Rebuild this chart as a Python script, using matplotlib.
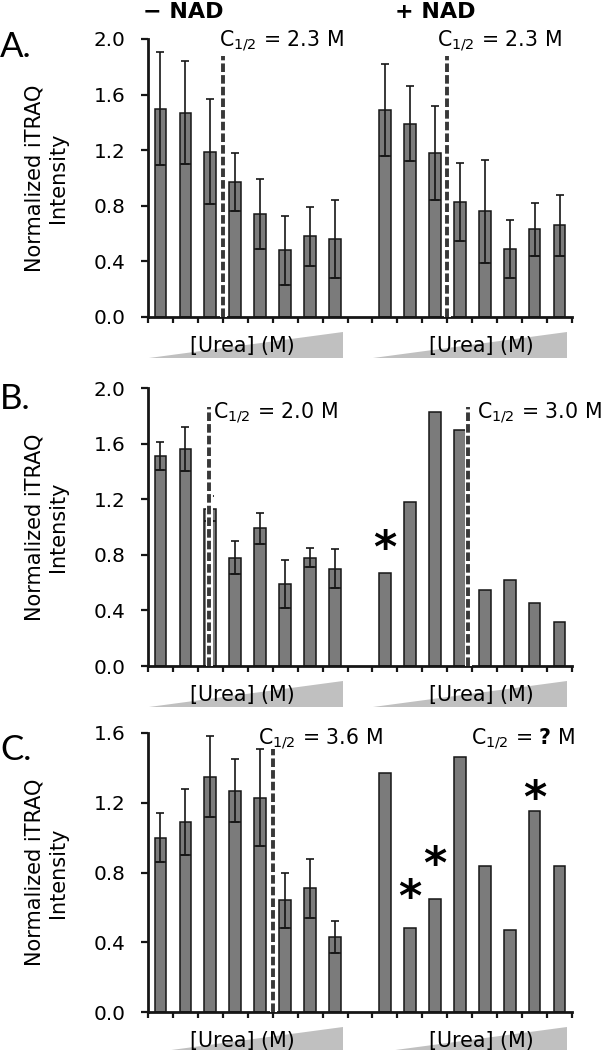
import matplotlib
matplotlib.use('Agg')
import matplotlib.pyplot as plt
import matplotlib.transforms as mtransforms
from matplotlib.patches import Polygon


# bar heights and error bars
# left group = - NAD, right group = + NAD
a_minus = [1.50, 1.47, 1.19, 0.97, 0.74, 0.48, 0.58, 0.56]
a_minus_sd = [0.41, 0.37, 0.38, 0.21, 0.25, 0.25, 0.21, 0.28]
a_plus = [1.49, 1.39, 1.18, 0.83, 0.76, 0.49, 0.63, 0.66]
a_plus_sd = [0.33, 0.27, 0.34, 0.28, 0.37, 0.21, 0.19, 0.22]

b_minus = [1.51, 1.56, 1.13, 0.78, 0.99, 0.59, 0.78, 0.70]
b_minus_sd = [0.10, 0.16, 0.09, 0.12, 0.11, 0.17, 0.07, 0.14]
b_plus = [0.67, 1.18, 1.83, 1.70, 0.55, 0.62, 0.45, 0.32]

c_minus = [1.00, 1.09, 1.35, 1.27, 1.23, 0.64, 0.71, 0.43]
c_minus_sd = [0.14, 0.19, 0.23, 0.18, 0.28, 0.16, 0.17, 0.09]
c_plus = [1.37, 0.48, 0.65, 1.46, 0.84, 0.47, 1.15, 0.84]

# C1/2 markers: (x position between bars, top of dashed line)
a_cuts = [(2.5, 1.88), (11.5, 1.88)]
b_cuts = [(1.95, 1.86), (12.35, 1.86)]
c_cuts = [(4.5, 1.51)]

# C1/2 text: (x, y, label)
a_notes = [(2.35, 1.94, 'C$_{1/2}$ = 2.3 M'), (11.1, 1.94, 'C$_{1/2}$ = 2.3 M')]
b_notes = [(2.1, 1.78, 'C$_{1/2}$ = 2.0 M'), (12.7, 1.78, 'C$_{1/2}$ = 3.0 M')]
c_notes = [(3.9, 1.53, 'C$_{1/2}$ = 3.6 M'), (12.45, 1.53, 'C$_{1/2}$ = $\\mathbf{?}$ M')]

# asterisks (x, y centre)
b_stars = [(9, 0.93)]
c_stars = [(10, 0.72), (11, 0.91), (15, 1.29)]

BAR_W = 0.47
INK = '#161616'

W, H = 602, 1050


def draw_panel(ax, minus, minus_sd, plus, plus_sd, ymax, cuts, notes, stars):
  x_left = list(range(8))
  x_right = list(range(9, 17))
  for xs, vals, sd in ((x_left, minus, minus_sd), (x_right, plus, plus_sd)):
    ax.bar(xs, vals, width=BAR_W, color='#7b7b7b', edgecolor=INK, linewidth=1.1, zorder=2)
    if sd is None: continue
    ax.errorbar(xs, vals, yerr=sd, fmt='none', ecolor=INK, elinewidth=1.2,
                capsize=3, capthick=1.2, zorder=3)
    low = [v - s for v, s in zip(vals, sd)]
    ax.hlines(low, [x - BAR_W / 2 for x in xs], [x + BAR_W / 2 for x in xs],
              colors=INK, linewidth=1.2, zorder=3)

  for xc, top in cuts:
    ax.plot([xc, xc], [0, top], color='white', lw=5.0, solid_capstyle='butt', zorder=4)
    ax.plot([xc, xc], [0, top], color='#383838', lw=2.8, dashes=(2.2, 0.8), zorder=5)

  for x, y, s in notes:
    ax.text(x, y, s, fontsize=14.8, ha='left', va='baseline', zorder=6)

  for x, y in stars:
    ax.annotate('*', xy=(x, y), xytext=(0, -18), textcoords='offset points',
                ha='center', va='baseline', fontsize=32, fontweight='bold', zorder=6)

  ax.set_xlim(-0.5, 16.5)
  ax.set_ylim(0, ymax)
  ticks = [i * 0.4 for i in range(int(round(ymax / 0.4)) + 1)]
  ax.set_yticks(ticks)
  ax.set_yticklabels(['%.1f' % t for t in ticks])
  ax.set_xticks([i - 0.5 for i in range(18)])
  ax.tick_params(axis='y', direction='out', length=5, width=1.6, labelsize=14.4, pad=11, color=INK)
  ax.tick_params(axis='x', direction='out', length=4.5, width=1.6, labelbottom=False, color=INK)
  for side in ('top', 'right'):
    ax.spines[side].set_visible(False)
  for side in ('left', 'bottom'):
    ax.spines[side].set_linewidth(2.0)
    ax.spines[side].set_color(INK)

  ax.text(-0.24, 0.5, 'Normalized iTRAQ\nIntensity', transform=ax.transAxes,
          rotation=90, ha='center', va='center', multialignment='center', fontsize=15)

  # urea gradient wedges under each group
  trans = mtransforms.blended_transform_factory(ax.transData, ax.transAxes)
  for x0, x1, xt in ((-0.46, 7.32, 3.27), (8.52, 16.3, 12.87)):
    ax.add_patch(Polygon([(x0, -0.147), (x1, -0.147), (x1, -0.054)], closed=True,
                         transform=trans, clip_on=False, facecolor='#c0c0c0',
                         edgecolor='none', zorder=1))
    ax.text(xt, -0.104, '[Urea] (M)', transform=trans, ha='center', va='center',
            fontsize=14.9, zorder=2, clip_on=False)


fig = plt.figure(figsize=(W / 100, H / 100), dpi=100)

# axes boxes in pixels: (top, bottom)
boxes = [(39, 317), (388, 666), (733, 1012)]
axes = []
for top, bottom in boxes:
  axes.append(fig.add_axes([148 / W, (H - bottom) / H, 424 / W, (bottom - top) / H]))

draw_panel(axes[0], a_minus, a_minus_sd, a_plus, a_plus_sd, 2.0, a_cuts, a_notes, [])
draw_panel(axes[1], b_minus, b_minus_sd, b_plus, None, 2.0, b_cuts, b_notes, b_stars)
draw_panel(axes[2], c_minus, c_minus_sd, c_plus, None, 1.6, c_cuts, c_notes, c_stars)

fig.text(183 / W, 1 - 12 / H, '\u2212 NAD', ha='center', va='center', fontsize=16, fontweight='bold')
fig.text(435 / W, 1 - 12 / H, '+ NAD', ha='center', va='center', fontsize=16, fontweight='bold')

for letter, base in (('A.', 57), ('B.', 409), ('C.', 760)):
  fig.text(0, 1 - base / H, letter, ha='left', va='baseline', fontsize=25, family='Lato')

fig.savefig('out.png', dpi=100)
